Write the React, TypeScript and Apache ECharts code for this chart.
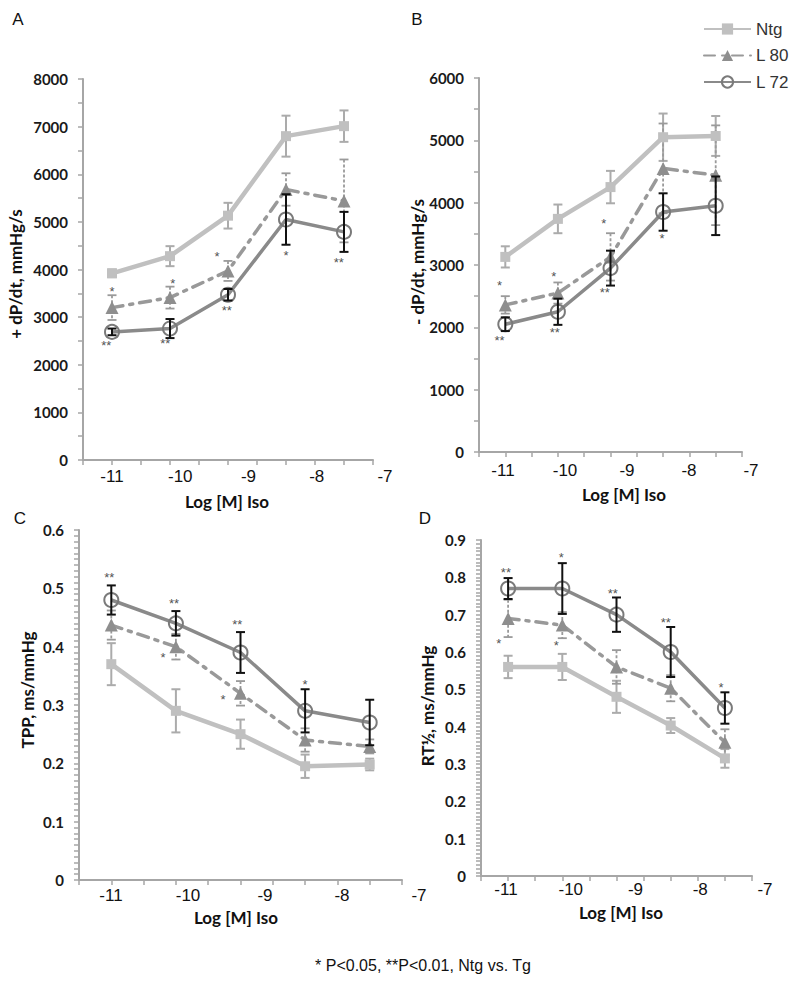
import React, { useEffect, useRef } from 'react';
import * as echarts from 'echarts';

// x tick labels (log [M] Iso) and dose positions (index along the axis)
const doseLabels = [-11, -10, -9, -8, -7];
const doseIndex = [0, 1, 2, 3, 4];
const seriesNames = ['Ntg', 'L 80', 'L 72'];

// Panel A: + dP/dt, mmHg/s
const aNtg = [3920, 4280, 5130, 6800, 7010];
const aNtgErr = [80, 210, 270, 430, 330];
const aL80 = [3200, 3410, 3970, 5680, 5440];
const aL80Err = [260, 230, 210, 340, 870];
const aL72 = [2690, 2760, 3470, 5050, 4790];
const aL72Err = [70, 200, 120, 530, 420];
const aSig = [
  [0, 3600, '*'], [-0.1, 2460, '**'], [1.05, 3770, '*'], [0.92, 2500, '**'],
  [1.81, 4340, '*'], [1.98, 3200, '**'], [3.0, 4355, '*'], [3.91, 4200, '**'],
];

// Panel B: - dP/dt, mmHg/s
const bNtg = [3130, 3740, 4250, 5050, 5070];
const bNtgErr = [170, 230, 260, 380, 320];
const bL80 = [2360, 2550, 3130, 4550, 4440];
const bL80Err = [140, 170, 380, 720, 800];
const bL72 = [2050, 2250, 2950, 3850, 3950];
const bL72Err = [110, 210, 280, 300, 470];
const bSig = [
  [-0.11, 2720, '*'], [-0.11, 1830, '**'], [0.92, 2870, '*'], [0.94, 1960, '**'],
  [1.87, 3720, '*'], [1.89, 2600, '**'], [2.98, 3480, '*'],
];

// Panel C: TPP, ms/mmHg
const cNtg = [0.37, 0.29, 0.25, 0.195, 0.198];
const cNtgErr = [0.036, 0.037, 0.025, 0.02, 0.01];
const cL80 = [0.437, 0.4, 0.32, 0.24, 0.229];
const cL80Err = [0.025, 0.022, 0.021, 0.02, 0.012];
const cL72 = [0.48, 0.44, 0.39, 0.29, 0.27];
const cL72Err = [0.025, 0.021, 0.035, 0.037, 0.039];
const cSig = [
  [-0.03, 0.524, '**'], [0.97, 0.48, '**'], [0.8, 0.386, '*'],
  [1.95, 0.443, '**'], [1.73, 0.314, '*'], [3.0, 0.341, '*'],
];

// Panel D: RT½, ms/mmHg
const dNtg = [0.56, 0.56, 0.48, 0.403, 0.315];
const dNtgErr = [0.03, 0.035, 0.043, 0.02, 0.025];
const dL80 = [0.69, 0.672, 0.56, 0.503, 0.358];
const dL80Err = [0.05, 0.035, 0.045, 0.035, 0.035];
const dL72 = [0.77, 0.77, 0.7, 0.6, 0.45];
const dL72Err = [0.028, 0.068, 0.046, 0.067, 0.042];
const dSig = [
  [-0.04, 0.82, '**'], [-0.17, 0.63, '*'], [0.98, 0.862, '*'], [0.89, 0.625, '*'],
  [1.93, 0.766, '**'], [2.91, 0.688, '**'], [3.93, 0.514, '*'],
];

const panelData = [
  { ntg: aNtg, ntgErr: aNtgErr, l80: aL80, l80Err: aL80Err, l72: aL72, l72Err: aL72Err, sig: aSig, yMax: 8000, yInterval: 1000, yMinor: 2 },
  { ntg: bNtg, ntgErr: bNtgErr, l80: bL80, l80Err: bL80Err, l72: bL72, l72Err: bL72Err, sig: bSig, yMax: 6000, yInterval: 1000, yMinor: 2 },
  { ntg: cNtg, ntgErr: cNtgErr, l80: cL80, l80Err: cL80Err, l72: cL72, l72Err: cL72Err, sig: cSig, yMax: 0.6, yInterval: 0.1, yMinor: 10 },
  { ntg: dNtg, ntgErr: dNtgErr, l80: dL80, l80Err: dL80Err, l72: dL72, l72Err: dL72Err, sig: dSig, yMax: 0.9, yInterval: 0.1, yMinor: 10 },
];

// layout (pixels)
const panelLayout = [
  { main: { left: 83, top: 79, width: 290, height: 381 }, lab: { left: 112, width: 273 }, labMargin: 8 },
  { main: { left: 479, top: 78, width: 263, height: 374 }, lab: { left: 503, width: 248 }, labMargin: 10 },
  { main: { left: 79, top: 530, width: 323, height: 350 }, lab: { left: 111, width: 308 }, labMargin: 7 },
  { main: { left: 481, top: 540, width: 271, height: 336 }, lab: { left: 506, width: 259 }, labMargin: 5 },
];

const yTitles = ['+ dP/dt, mmHg/s', '- dP/dt, mmHg/s', 'TPP, ms/mmHg', 'RT½, ms/mmHg'];
const yTitlePos = [[15, 274], [417, 262], [27, 690], [427, 706]];
const xTitle = 'Log [M] Iso';
const xTitlePos = [[227, 501], [624, 494], [236, 917], [621, 912]];
const panelLetters = ['A', 'B', 'C', 'D'];
const letterPos = [[18, 19], [417, 19], [20, 518], [425, 518]];
const footnote = '* P<0.05, **P<0.01, Ntg vs. Tg';

const AXIS = '#a6a6a6';
const C_NTG = '#c0c0c0';
const C_L80 = '#8e8e8e';
const C_L72 = '#8a8a8a';
const TICKFONT = 'Lato';
const ARIAL = 'Liberation Sans, Arial, sans-serif';

function errSeries(p: number, vals: number[], errs: number[], color: string, width: number, z: number, dash?: number[]) {
  return {
    type: 'custom',
    xAxisIndex: p * 2,
    yAxisIndex: p * 2,
    silent: true,
    z,
    data: vals.map((v, i) => [doseIndex[i], v, errs[i]]),
    renderItem: (_params: any, api: any) => {
      const x = api.value(0);
      const v = api.value(1);
      const e = api.value(2);
      const top = api.coord([x, v + e]);
      const bot = api.coord([x, v - e]);
      const hw = 4.5;
      return {
        type: 'group',
        children: [
          { type: 'line', shape: { x1: top[0], y1: top[1], x2: bot[0], y2: bot[1] }, style: { stroke: color, lineWidth: width, lineDash: dash || null } },
          { type: 'line', shape: { x1: top[0] - hw, y1: top[1], x2: top[0] + hw, y2: top[1] }, style: { stroke: color, lineWidth: width } },
          { type: 'line', shape: { x1: bot[0] - hw, y1: bot[1], x2: bot[0] + hw, y2: bot[1] }, style: { stroke: color, lineWidth: width } },
        ],
      };
    },
  };
}

function buildOption() {
  const grid: any[] = [];
  const xAxis: any[] = [];
  const yAxis: any[] = [];
  const series: any[] = [];
  const graphic: any[] = [];

  panelData.forEach((pd, p) => {
    const L = panelLayout[p];
    grid.push({ ...L.main, containLabel: false, outerBoundsMode: 'none' });
    grid.push({ left: L.lab.left, width: L.lab.width, top: L.main.top, height: L.main.height, containLabel: false, outerBoundsMode: 'none' });

    xAxis.push({
      type: 'value', gridIndex: p * 2, min: -0.5, max: 4.5, interval: 0.5,
      axisLine: { show: true, onZero: false, lineStyle: { color: AXIS, width: 2 } },
      axisTick: { show: true, inside: false, length: 5, lineStyle: { color: AXIS, width: 1.5 } },
      axisLabel: { show: false },
      splitLine: { show: false },
    });
    xAxis.push({
      type: 'value', gridIndex: p * 2 + 1, min: doseLabels[0], max: doseLabels[doseLabels.length - 1], interval: 1,
      axisLine: { show: false, onZero: false }, axisTick: { show: false }, splitLine: { show: false },
      axisLabel: { show: true, margin: L.labMargin, fontSize: 17, fontFamily: ARIAL, color: '#111', formatter: (v: number) => String(v) },
    });
    yAxis.push({
      type: 'value', gridIndex: p * 2, min: 0, max: pd.yMax, interval: pd.yInterval,
      axisLine: { show: true, onZero: false, lineStyle: { color: AXIS, width: 2 } },
      axisTick: { show: true, inside: false, length: 5, lineStyle: { color: AXIS, width: 1.5 } },
      minorTick: { show: true, splitNumber: pd.yMinor, length: 5, lineStyle: { color: AXIS, width: 1.5 } },
      axisLabel: {
        show: true, margin: 15, fontSize: 15, fontWeight: 'bold', fontFamily: TICKFONT, color: '#1a1a1a',
        formatter: (v: number) => String(Math.round(v * 1000) / 1000),
      },
      splitLine: { show: false },
    });
    yAxis.push({ type: 'value', gridIndex: p * 2 + 1, show: false, min: 0, max: 1, axisLine: { onZero: false } });

    series.push(errSeries(p, pd.ntg, pd.ntgErr, '#ababab', 2, 2));
    series.push(errSeries(p, pd.l80, pd.l80Err, '#9a9a9a', 1.8, 3, [3, 2]));

    series.push({
      name: 'Ntg', type: 'line', xAxisIndex: p * 2, yAxisIndex: p * 2, z: 3,
      data: pd.ntg.map((v, i) => [doseIndex[i], v]),
      symbol: 'rect', symbolSize: 10,
      lineStyle: { color: C_NTG, width: 4.5 },
      itemStyle: { color: C_NTG },
    });
    series.push({
      name: 'L 80', type: 'line', xAxisIndex: p * 2, yAxisIndex: p * 2, z: 4,
      data: pd.l80.map((v, i) => [doseIndex[i], v]),
      symbol: 'triangle', symbolSize: 13,
      lineStyle: { color: '#999999', width: 3.5, type: [11, 7, 3, 7], cap: 'round' },
      itemStyle: { color: C_L80 },
    });
    series.push({
      name: 'L 72', type: 'line', xAxisIndex: p * 2, yAxisIndex: p * 2, z: 5,
      data: pd.l72.map((v, i) => [doseIndex[i], v]),
      symbol: 'circle', symbolSize: 14,
      lineStyle: { color: C_L72, width: 3.5 },
      itemStyle: { color: 'rgba(255,255,255,0)', borderColor: '#7a7a7a', borderWidth: 2 },
    });
    series.push(errSeries(p, pd.l72, pd.l72Err, '#111111', 2, 6));

    series.push({
      type: 'scatter', xAxisIndex: p * 2, yAxisIndex: p * 2, z: 7, silent: true,
      symbolSize: 1, itemStyle: { color: 'rgba(0,0,0,0)' },
      data: pd.sig.map((s) => ({ value: [s[0], s[1]], name: s[2] })),
      label: {
        show: true, position: 'inside', formatter: '{b}', fontSize: 13, fontFamily: ARIAL,
        color: '#222', textBorderWidth: 0, textBorderColor: 'transparent', offset: [0, 3],
      },
    });

    graphic.push({
      type: 'text', x: yTitlePos[p][0], y: yTitlePos[p][1], rotation: Math.PI / 2,
      style: { text: yTitles[p], font: 'bold 17px Lato', fill: '#111', align: 'center', verticalAlign: 'middle' },
    });
    graphic.push({
      type: 'text', x: xTitlePos[p][0], y: xTitlePos[p][1],
      style: { text: xTitle, font: 'bold 17px Lato', fill: '#111', align: 'center', verticalAlign: 'middle' },
    });
    graphic.push({
      type: 'text', x: letterPos[p][0], y: letterPos[p][1],
      style: { text: panelLetters[p], font: '17px ' + ARIAL, fill: '#111', align: 'center', verticalAlign: 'middle' },
    });
  });

  graphic.push({
    type: 'text', x: 423, y: 965,
    style: { text: footnote, font: '16px ' + ARIAL, fill: '#111', align: 'center', verticalAlign: 'middle' },
  });

  return {
    animation: false,
    backgroundColor: '#ffffff',
    grid, xAxis, yAxis, series, graphic,
    legend: {
      data: seriesNames, orient: 'vertical', left: 698, top: 14,
      itemWidth: 47, itemHeight: 14, itemGap: 6.5,
      textStyle: { fontSize: 17, lineHeight: 20, fontFamily: ARIAL, color: '#333' },
      selectedMode: false,
    },
  };
}

export default function App() {
  const ref = useRef<HTMLDivElement>(null);
  useEffect(() => {
    if (!ref.current) return;
    const chart = echarts.init(ref.current, undefined, { renderer: 'svg' });
    chart.setOption(buildOption() as any);
    return () => chart.dispose();
  }, []);
  return <div ref={ref} style={{ position: 'fixed', left: 0, top: 0, width: 800, height: 985, background: '#fff' }} />;
}
